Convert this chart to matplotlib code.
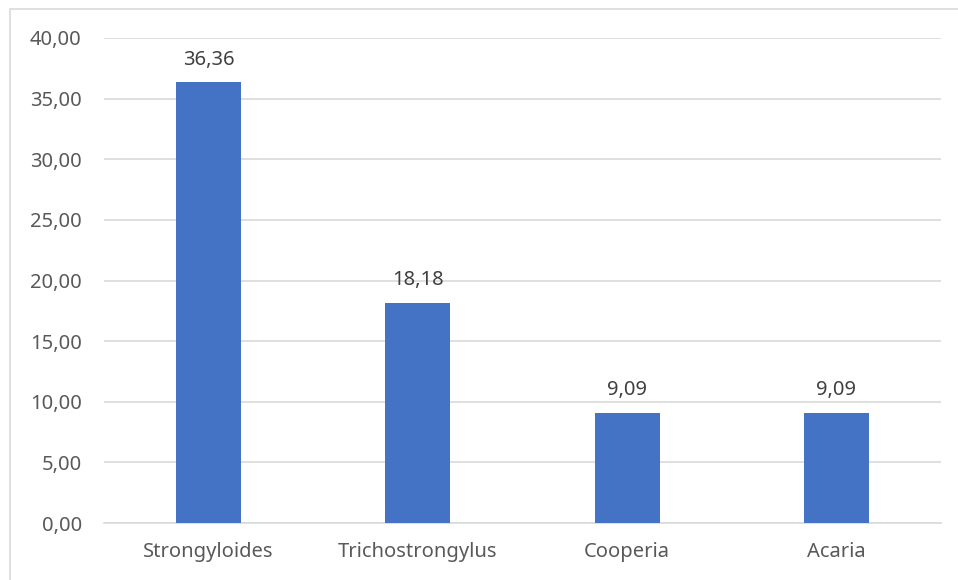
import matplotlib
matplotlib.use("Agg")
import matplotlib.pyplot as plt
from matplotlib.patches import Rectangle

categories = ["Strongyloides", "Trichostrongylus", "Cooperia", "Acaria"]
values = [36.36, 18.18, 9.09, 9.09]
yticks = [0, 5, 10, 15, 20, 25, 30, 35, 40]

plt.rcParams['font.family'] = ['Noto Sans', 'DejaVu Sans']
txt = '#595959'
fs = 14.5

W, H = 958, 580
fig = plt.figure(figsize=(W/100, H/100), dpi=100)
ax = fig.add_axes([104/W, 1-523/H, (941-104)/W, (523-38)/H])

x = list(range(len(categories)))
ax.bar(x, values, width=0.31, color='#4472C4', zorder=3)
for xi, v in zip(x, values):
    ax.annotate(f"{v:.2f}".replace('.', ','), (xi, v), xytext=(0, 9), textcoords='offset points',
                ha='center', va='bottom', fontsize=fs, color='#404040')

ax.set_xlim(-0.5, len(categories)-0.5)
ax.set_ylim(0, 40)
ax.set_yticks(yticks)
ax.set_yticklabels([f"{t:.2f}".replace('.', ',') for t in yticks], fontsize=fs, color=txt)
ax.set_xticks(x)
ax.set_xticklabels(categories, fontsize=fs, color=txt)
ax.tick_params(axis='both', length=0)
ax.tick_params(axis='y', pad=16)
ax.tick_params(axis='x', pad=14)
ax.grid(axis='y', color='#D9D9D9', linewidth=1.2, zorder=0)
for s in ['top', 'right', 'left']:
    ax.spines[s].set_visible(False)
ax.spines['bottom'].set_color('#D9D9D9')
ax.spines['bottom'].set_linewidth(1.2)

fig.patches.append(Rectangle((10/W, -0.1), 1.1, 1-9/H+0.1, transform=fig.transFigure,
                             fill=False, edgecolor='#D9D9D9', linewidth=1.2))

fig.savefig("out.png", dpi=100)
